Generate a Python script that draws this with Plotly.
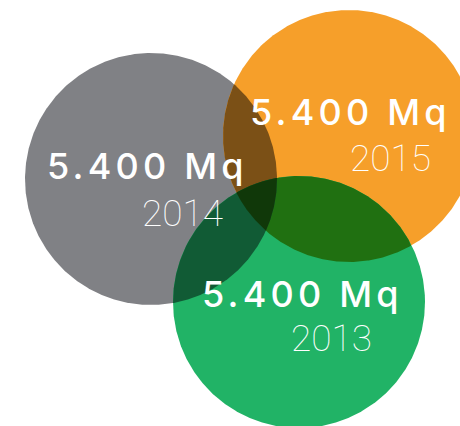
import numpy as np
import plotly.graph_objects as go

# ---- data ----
years = ["2014", "2015", "2013"]
values_label = ["5.400 Mq", "5.400 Mq", "5.400 Mq"]
values = [5400, 5400, 5400]

# ---- layout / styling (positions in pixel-like axis units) ----
W, H = 460, 426
centers_x = [151, 349, 299]
centers_y = [179, 136, 302]
radius = 126
colors = [(128, 129, 133), (246, 159, 42), (33, 179, 102)]
label_pos = [(147, 166), (350, 112), (302, 294)]
year_pos = [(182, 213), (390, 158), (331, 338)]


def circle_pts(cx, cy, r, n=720):
    t = np.linspace(0, 2 * np.pi, n, endpoint=False)
    return cx + r * np.cos(t), cy + r * np.sin(t)


def pair_intersections(i, j):
    x0, y0, x1, y1 = centers_x[i], centers_y[i], centers_x[j], centers_y[j]
    d = np.hypot(x1 - x0, y1 - y0)
    a = d / 2.0
    h = np.sqrt(max(radius ** 2 - a ** 2, 0))
    xm, ym = x0 + a * (x1 - x0) / d, y0 + a * (y1 - y0) / d
    return [(xm + h * (y1 - y0) / d, ym - h * (x1 - x0) / d),
            (xm - h * (y1 - y0) / d, ym + h * (x1 - x0) / d)]


def inside(px, py, k, tol=1e-6):
    return (px - centers_x[k]) ** 2 + (py - centers_y[k]) ** 2 <= radius ** 2 + tol


def region(idx):
    xs, ys = [], []
    for i in idx:
        cx, cy = circle_pts(centers_x[i], centers_y[i], radius)
        m = np.ones_like(cx, dtype=bool)
        for k in idx:
            if k != i:
                m &= inside(cx, cy, k)
        xs.extend(cx[m]); ys.extend(cy[m])
    for a in range(len(idx)):
        for b in range(a + 1, len(idx)):
            for (px, py) in pair_intersections(idx[a], idx[b]):
                if all(inside(px, py, k, 1e-3) for k in idx):
                    xs.append(px); ys.append(py)
    xs, ys = np.array(xs), np.array(ys)
    mx, my = xs.mean(), ys.mean()
    order = np.argsort(np.arctan2(ys - my, xs - mx))
    xs, ys = xs[order], ys[order]
    return np.append(xs, xs[0]), np.append(ys, ys[0])


def multiply(idx):
    c = np.array([1.0, 1.0, 1.0])
    for i in idx:
        c *= np.array(colors[i]) / 255.0
    c = np.round(c * 255).astype(int)
    return f"rgb({c[0]},{c[1]},{c[2]})"


fig = go.Figure()
for i in range(3):
    cx, cy = circle_pts(centers_x[i], centers_y[i], radius)
    fig.add_trace(go.Scatter(x=np.append(cx, cx[0]), y=np.append(cy, cy[0]),
                             mode="lines", fill="toself",
                             fillcolor="rgb(%d,%d,%d)" % colors[i],
                             line=dict(width=0), hoverinfo="skip",
                             showlegend=False))
for idx in [(0, 1), (1, 2), (0, 2), (0, 1, 2)]:
    rx, ry = region(idx)
    fig.add_trace(go.Scatter(x=rx, y=ry, mode="lines", fill="toself",
                             fillcolor=multiply(idx), line=dict(width=0),
                             hoverinfo="skip", showlegend=False))

for i in range(3):
    fig.add_annotation(x=label_pos[i][0], y=label_pos[i][1],
                       text='<span style="letter-spacing:4.2px">%s</span>' % values_label[i],
                       showarrow=False, xanchor="center", yanchor="middle",
                       font=dict(family="Inter", size=36, color="white",
                                 weight=500))
    fig.add_annotation(x=year_pos[i][0], y=year_pos[i][1], text=years[i],
                       showarrow=False, xanchor="center", yanchor="middle",
                       font=dict(family="Roboto", size=37, color="white",
                                 weight=100))

fig.update_layout(width=W, height=H, margin=dict(l=0, r=0, t=0, b=0),
                  paper_bgcolor="white", plot_bgcolor="white",
                  xaxis=dict(range=[0, W], visible=False, fixedrange=True),
                  yaxis=dict(range=[H, 0], visible=False, fixedrange=True),
                  showlegend=False)
fig.write_html("out.html", config={"displayModeBar": False},
               post_script="document.body.style.margin='0';")
